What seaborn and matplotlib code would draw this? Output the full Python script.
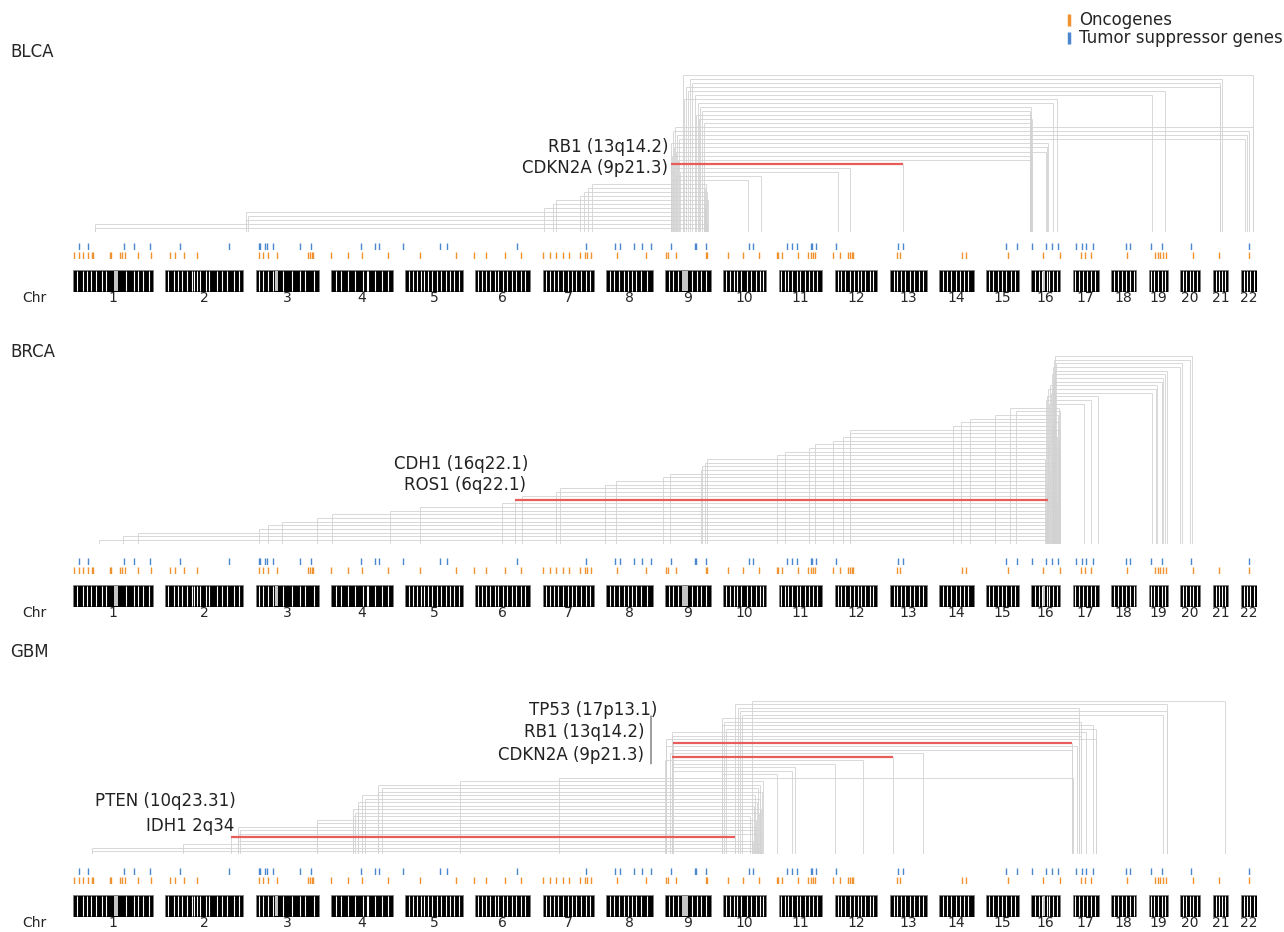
import numpy as np
import matplotlib
matplotlib.use("Agg")
import matplotlib.pyplot as plt
from matplotlib.lines import Line2D
from matplotlib.patches import Rectangle
from matplotlib.transforms import ScaledTranslation
import seaborn as sns

sns.set_theme(style="white")
plt.rcParams["font.family"] = ["DejaVu Sans"]

# chromosome sizes in Mb (hg19), drawn one after another with a gap
chrom_names = [str(i) for i in range(1, 23)]
chrom_sizes = [249.25, 243.2, 198.0, 191.15, 180.9, 171.1, 159.1, 146.4, 141.2, 135.5, 135.0,
               133.85, 115.2, 107.35, 102.5, 90.35, 81.2, 78.1, 59.1, 63.0, 48.1, 51.3]
chrom_gap = 39

# light bands of the ideogram, as fraction along each chromosome
band_pos = [
    [.05, .13, .18, .23, .29, .36, .42, .66, .76, .81, .88, .95],
    [.04, .11, .17, .22, .28, .34, .37, .41, .45, .52, .56, .67, .73, .80, .88, .95],
    [.05, .11, .19, .27, .43, .57, .70, .78, .92],
    [.08, .16, .27, .38, .52, .58, .60, .71, .82, .93],
    [.06, .14, .20, .27, .33, .40, .47, .55, .62, .70, .78, .85, .93],
    [.05, .12, .20, .26, .35, .42, .50, .58, .66, .74, .83, .90],
    [.06, .15, .22, .30, .40, .50, .58, .65, .75, .85, .93],
    [.08, .18, .28, .38, .47, .55, .65, .75, .88],
    [.08, .18, .28, .60, .70, .80, .90],
    [.07, .15, .25, .33, .42, .55, .65, .75, .85, .93],
    [.06, .15, .22, .30, .42, .50, .60, .70, .78, .88],
    [.07, .15, .25, .35, .45, .55, .62, .72, .82, .90],
    [.10, .20, .30, .42, .55, .65, .78, .90],
    [.10, .22, .35, .48, .60, .72, .85],
    [.10, .22, .35, .50, .62, .75, .88],
    [.12, .25, .38, .55, .62, .75, .88],
    [.10, .25, .40, .55, .70, .85],
    [.12, .28, .45, .60, .75, .90],
    [.15, .30, .50, .70, .85],
    [.15, .30, .48, .65, .82],
    [.20, .40, .60, .80],
    [.20, .40, .60, .80],
]
gray_bands = {1: (0.51, 0.57), 3: (0.31, 0.36), 9: (0.37, 0.50), 16: (0.41, 0.47)}

# gene loci, genome coordinate in Mb (chromosomes laid end to end with the gap)
oncogenes = [3, 19, 31, 47, 59, 63, 116, 119, 147, 153, 163, 203, 244, 303, 319, 347, 388,
             581, 594, 609, 638, 734, 741, 747, 750, 806, 859, 903, 984, 1084, 1197, 1253,
             1291, 1350, 1400, 1469, 1491, 1509, 1531, 1550, 1584, 1600, 1606, 1619, 1700,
             1791, 1853, 1859, 1884, 1978, 1981, 2047, 2094, 2144, 2200, 2203, 2216, 2266,
             2297, 2306, 2313, 2319, 2375, 2397, 2422, 2428, 2434, 2438, 2575, 2584, 2778,
             2791, 2922, 3031, 3084, 3150, 3163, 3181, 3294, 3381, 3391, 3397, 3406, 3416,
             3500, 3580, 3674]
tumor_suppressors = [19, 47, 159, 191, 241, 334, 488, 581, 584, 600, 606, 625, 709, 744, 900,
                     944, 956, 1031, 1147, 1169, 1388, 1603, 1694, 1709, 1753, 1778, 1806,
                     1869, 1944, 1947, 1978, 2113, 2125, 2231, 2247, 2263, 2306, 2309, 2322,
                     2384, 2578, 2594, 2916, 2950, 2997, 3041, 3059, 3078, 3134, 3153, 3166,
                     3188, 3291, 3303, 3369, 3403, 3494, 3674]

# co-alteration links, one per row from top to bottom (start / end in Mb)
blca_left = [1906, 1928, 1934, 1916, 1922, 1944, 1909, 1953, 1959, 1966, 1947, 1956, 1972,
             1881, 1875, 1888, 1894, 1869, 1878, 1884, 1872, 1891, 1869, 1875, 1897, 1884,
             1869, 1622, 1609, 1597, 1584, 1509, 1500, 1472, 541, 547, 541, 69, 69]
blca_right = [3689, 3591, 3583, 3583, 3413, 3372, 3075, 3063, 2994, 2991, 2994, 2997, 2991,
              3687, 3676, 3668, 3664, 3047, 3044, 3041, 2997, 2991, 2594, 2428, 2391, 2150,
              2109, 1978, 1975, 1981, 1972, 1984, 1978, 1975, 1972, 1978, 1966, 1981, 1975]
blca_hl = [22]
blca_labels = [("RB1 (13q14.2)", 22, -3, 17), ("CDKN2A (9p21.3)", 22, -3, -4)]

brca_left = [3069, 3066, 3072, 3063, 3069, 3059, 3066, 3063, 3053, 3047, 3056, 3044, 3041,
             3050, 2928, 2947, 2881, 2803, 2775, 2750, 2428, 2428, 2406, 2375, 2319, 2300,
             2225, 2200, 1981, 1975, 1966, 1963, 1866, 1844, 1697, 1663, 1522, 1509, 1403,
             1381, 1341, 1084, 991, 809, 763, 653, 609, 581, 203, 156, 81]
brca_right = [3497, 3491, 3466, 3459, 3419, 3413, 3406, 3403, 3388, 3384, 3372, 3203, 3181,
              3159, 3081, 3084, 3078, 3069, 3078, 3059, 3084, 3072, 3075, 3081, 3047, 3078,
              3063, 3084, 3038, 3066, 3081, 3053, 3078, 3069, 3084, 3044, 3081, 3059, 3078,
              3047, 3075, 3084, 3066, 3078, 3041, 3081, 3084, 3069, 3084, 3063, 3078]
brca_hl = [39]
brca_labels = [("CDH1 (16q22.1)", 39, 13, 36), ("ROS1 (6q22.1)", 39, 11, 15)]

gbm_left = [2122, 2069, 2078, 2084, 2091, 2028, 2034, 2028, 2041, 1872, 1872, 1853, 1875,
            1853, 1872, 1866, 1872, 1850, 1872, 1872, 1872, 2028, 1519, 1209, 953, 966, 953,
            903, 913, 891, 891, 875, 881, 875, 763, 763, 516, 522, 516, 494, 516, 344, 59, 59]
gbm_right = [3599, 3419, 3144, 3419, 3406, 3144, 3150, 3188, 3197, 3166, 3150, 3197, 3122,
             3138, 3122, 2656, 2563, 2469, 2381, 2256, 2247, 2200, 3125, 2156, 2147, 2141,
             2153, 2131, 2147, 2138, 2128, 2150, 2144, 2116, 2134, 2122, 2131, 2147, 2138,
             2069, 2125, 2147, 2141, 2150]
gbm_hl = [12, 16, 39]
gbm_labels = [("TP53 (17p13.1)", 12, -16, 33), ("RB1 (13q14.2)", 12, -29, 11),
              ("CDKN2A (9p21.3)", 12, -29, -12), ("PTEN (10q23.31)", 39, 5, 36),
              ("IDH1 2q34", 39, 3, 11)]

panels = [
    ("BLCA", blca_left, blca_right, blca_hl, blca_labels),
    ("BRCA", brca_left, brca_right, brca_hl, brca_labels),
    ("GBM", gbm_left, gbm_right, gbm_hl, gbm_labels),
]
# pixel layout: title y, first row y, last row y, ideogram top
layout = [(52, 75, 228, 270), (352, 356, 540, 585), (652, 701, 851, 895)]

orange = "#f0922f"
blue = "#4a87cf"
grey = "#d2d2d2"
red = "#e85c5c"

starts = np.concatenate([[0], np.cumsum(np.add(chrom_sizes, chrom_gap))[:-1]])
genome_len = starts[-1] + chrom_sizes[-1]

W, H = 1284, 932
X0 = 73
X1 = X0 + genome_len * 0.32

fig = plt.figure(figsize=(W / 100, H / 100), dpi=100)


def add_ax(top, bottom):
    ax = fig.add_axes([X0 / W, 1 - bottom / H, (X1 - X0) / W, (bottom - top) / H])
    return ax


for (name, left, right, hl, labels), (ty, r0, r1, T) in zip(panels, layout):
    fig.text(10 / W, 1 - ty / H, name, ha="left", va="center", fontsize=12)

    n = len(left)
    sp = (r1 - r0) / (n - 1)
    ax = add_ax(r0 - 0.5 * sp, r1 + sp)
    rows = np.arange(n)
    ax.hlines(rows, left, right, color=grey, lw=0.6, zorder=1)
    ax.vlines(left, rows, n, color=grey, lw=0.6, zorder=1)
    ax.vlines(right, rows, n, color=grey, lw=0.6, zorder=1)
    for i in hl:
        ax.hlines(i, left[i], right[i], color=red, lw=1.6, zorder=3)
    for text, i, dx, dy in labels:
        ax.annotate(text, xy=(left[i], i), xytext=(dx, dy), textcoords="offset pixels",
                    ha="right", va="center", fontsize=12, color="#222222")
    if name == "GBM":
        off = ScaledTranslation(-22 / fig.dpi, -21 / fig.dpi, fig.dpi_scale_trans)
        ax.annotate("", xy=(left[12], 12), xycoords=ax.transData + off,
                    xytext=(0, 48), textcoords="offset pixels",
                    arrowprops=dict(arrowstyle="-", color="#555555", lw=0.8,
                                    shrinkA=0, shrinkB=0))
    ax.set_xlim(0, genome_len)
    ax.set_ylim(n, -0.5)
    ax.axis("off")

    # gene tracks
    for vals, col, top in [(tumor_suppressors, blue, T - 27), (oncogenes, orange, T - 18)]:
        axr = add_ax(top, top + 7)
        sns.rugplot(x=vals, ax=axr, height=1, color=col, lw=1.2, expand_margins=False)
        axr.set_xlim(0, genome_len)
        axr.set_ylim(0, 1)
        axr.axis("off")

    # ideogram
    axi = add_ax(T, T + 22)
    for k, size in enumerate(chrom_sizes):
        s = starts[k]
        axi.add_patch(Rectangle((s, 0), size, 1, facecolor="black", edgecolor="#808080", lw=0.6))
        axi.vlines(s + np.array(band_pos[k]) * size, 0.05, 0.95, color="white", lw=0.8)
        if k + 1 in gray_bands:
            a, b = gray_bands[k + 1]
            axi.add_patch(Rectangle((s + a * size, 0.05), (b - a) * size, 0.9,
                                    facecolor="#c4c4c4", lw=0))
        axi.text(s + size / 2, 1 - 28 / 22, chrom_names[k], ha="center", va="center",
                 fontsize=10)
    axi.set_xlim(0, genome_len)
    axi.set_ylim(0, 1)
    axi.axis("off")
    fig.text(34 / W, 1 - (T + 28) / H, "Chr", ha="center", va="center", fontsize=10)

handles = [Line2D([], [], color=orange, marker="|", linestyle="None", markersize=8, markeredgewidth=2.5),
           Line2D([], [], color=blue, marker="|", linestyle="None", markersize=8, markeredgewidth=2.5)]
fig.legend(handles, ["Oncogenes", "Tumor suppressor genes"], loc="upper right",
           bbox_to_anchor=(1.0 + 7 / W, 1.0 - 3 / H), frameon=False, fontsize=12,
           handlelength=0.6, handletextpad=0.3, labelspacing=0.0, borderaxespad=0.1)

fig.savefig("out.png", dpi=100, facecolor="white")
